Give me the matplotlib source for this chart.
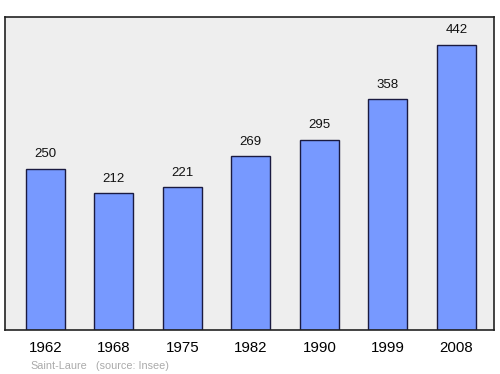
import matplotlib.pyplot as plt

years = ['1962', '1968', '1975', '1982', '1990', '1999', '2008']
population = [250, 212, 221, 269, 295, 358, 442]

plt.rcParams['font.family'] = ['Liberation Sans', 'DejaVu Sans']

fig = plt.figure(figsize=(5, 3.74), dpi=100)
ax = fig.add_axes([5 / 500, 44 / 374, 489 / 500, 313 / 374])
ax.set_facecolor('#eeeeee')

x = range(len(years))
bars = ax.bar(x, population, width=0.57, color='#7799ff', edgecolor='#1a1a40', linewidth=1)
for xi, v in zip(x, population):
    ax.annotate(str(v), (xi, v), xytext=(0, 6), textcoords='offset points',
                ha='center', va='bottom', fontsize=9.5, color='#111111')

ax.set_xlim(-0.59, 6.55)
ax.set_ylim(0, 485)
ax.set_yticks([])
ax.set_xticks(list(x))
ax.set_xticklabels(years, fontsize=10.8)
ax.tick_params(axis='x', length=0, pad=8)
for s in ax.spines.values():
    s.set_color('#222222')
    s.set_linewidth(1.2)

fig.text(30 / 500, 1 - 366 / 374, 'Saint-Laure', fontsize=7.8, color='#aaaaaa', va='center')
fig.text(96 / 500, 1 - 366 / 374, '(source: Insee)', fontsize=7.8, color='#aaaaaa', va='center')

fig.savefig('out.png', dpi=100)
